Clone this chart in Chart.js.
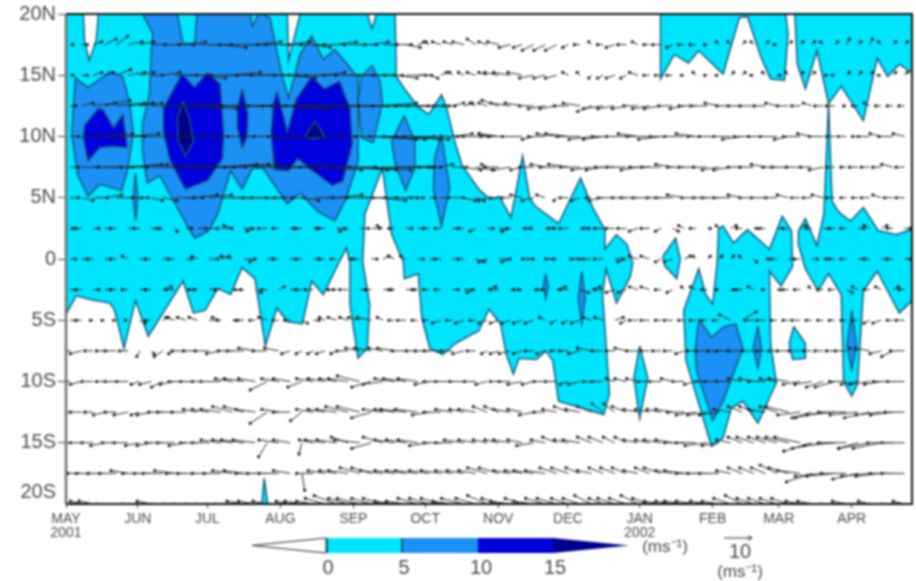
<!DOCTYPE html>
<html><head><meta charset="utf-8">
<style>html,body{margin:0;padding:0;background:#fff;overflow:hidden}
#wrap{width:916px;height:581px;position:relative}
canvas{filter:blur(0.8px)}</style>
<script src="https://cdn.jsdelivr.net/npm/chart.js@4/dist/chart.umd.min.js"></script>
</head><body><div id="wrap"><canvas id="c" width="916" height="581"></canvas></div>
<script>
// x axis unit: pentad index since 1 May 2001; y axis: latitude (deg, N positive)
const monthTicks=[0,6.2,12.2,18.5,24.8,31.0,37.3,43.3,49.5,55.8,61.5,67.8];
const monthLabels=[['MAY','2001'],'JUN','JUL','AUG','SEP','OCT','NOV','DEC',['JAN','2002'],'FEB','MAR','APR'];
const latTicks=[20,15,10,5,0,-5,-10,-15,-19.1];
const latLabels=['20N','15N','10N','5N','0','5S','10S','15S','20S'];
const legendLevels=['0','5','10','15'];

// speed > 0 contour regions
const band0=[
[[0,20],[1.5,20],[1.6,17.8],[2.0,16.2],[2.6,17.8],[2.8,20],[19.1,20],[19.2,16.2],[20.2,20],[26.0,20],[26.4,18.8],[26.8,20],[28.4,20],[28.5,14.9],[29.2,13.9],[30.4,12.4],[31.3,11.8],[32.4,13.4],[32.8,12.5],[33.6,9.4],[34.2,7.6],[35.7,5.6],[36.6,4.9],[37.4,5.1],[38.4,3.4],[39.4,8.4],[40.0,5.0],[40.5,4.3],[42.5,2.9],[44.4,6.6],[45.4,4.3],[46.5,2.4],[46.5,0.8],[47.5,2.0],[48.4,1.2],[48.9,-0.3],[48.7,-1.4],[47.5,-3.6],[46.6,-0.8],[46.3,-2.9],[46.9,-11.0],[46.4,-12.7],[42.5,-11.6],[42.0,-8.3],[41.4,-7.5],[40.6,-8.2],[39.1,-8.1],[38.6,-9.4],[38.0,-7.8],[37.5,-5.3],[36.5,-4.1],[35.6,-5.9],[35.1,-6.1],[33.6,-6.9],[32.5,-7.8],[31.4,-7.3],[30.7,-4.8],[30.4,-1.2],[29.2,-1.6],[29.1,-0.2],[28.1,2.0],[27.3,7.4],[25.8,3.7],[25.6,-0.2],[26.2,-3.7],[26.0,-7.3],[25.2,-8.1],[24.5,-3.7],[24.5,-0.3],[24.2,0.9],[23.6,-0.2],[22.2,-2.9],[21.2,-1.8],[20.4,-5.3],[19.1,-5.1],[18.2,-4.0],[17.2,-7.1],[16.3,-1.6],[15.2,-0.7],[14.2,-2.9],[13.1,-2.4],[12.0,-4.2],[11.0,-4.4],[10.1,-1.8],[7.1,-6.3],[6.0,-3.4],[5.0,-7.3],[4.2,-4.2],[3.8,-3.6],[2.1,-3.3],[0.9,-3.0],[0,-4.5]],
[[51.3,20],[51.3,14.7],[52.5,16.7],[53.7,16.0],[54.6,17.0],[56.7,15.1],[58.1,19.7],[58.8,19.8],[60.0,16.4],[60.8,14.7],[62.0,14.6],[62.3,18.4],[62.1,20]],
[[62.9,20],[63.1,15.9],[63.8,13.9],[64.8,17.0],[65.8,12.7],[66.9,14.1],[68.8,11.3],[70.0,16.4],[70.9,14.9],[71.9,15.9],[73,15.2],[73,20]],
[[63.2,2.3],[63.8,3.3],[64.8,1.1],[65.4,3.7],[65.8,12.7],[66.1,4.7],[66.7,3.8],[67.7,3.1],[68.8,4.2],[70.1,2.3],[71.6,2.0],[73,2.4],[73,-3.4],[71.9,-4.4],[70.0,-1.0],[68.8,-2.6],[68.3,-10.2],[67.8,-11.2],[67.1,-10.0],[66.9,-2.9],[65.8,-1.2],[64.9,-2.6],[63.8,-0.8],[63.2,1.2]],
[[56.3,2.5],[56.7,2.7],[57.6,1.3],[58.8,2.4],[60.7,0.8],[61.8,3.5],[62.6,2.3],[62.7,-0.6],[61.7,-2.2],[60.7,-1.0],[60.8,-6.9],[61.3,-10.1],[59.7,-13.4],[58.4,-11.6],[57.4,-12.2],[56.7,-14.6],[55.7,-15.3],[53.5,-8.3],[53.3,-4.2],[54.6,-0.8],[55.2,-2.9],[55.8,-3.7],[56.2,-0.2]],
[[51.5,0.2],[52.6,1.7],[53.0,0],[52.7,-1.6],[51.7,-0.6]],
[[49.5,-7.1],[50.2,-9.7],[49.5,-13.0],[49.0,-9.7]],
[[62.8,-5.5],[63.8,-6.9],[63.8,-8.1],[62.7,-8.2],[62.4,-6.9]],
[[17.1,-17.9],[17.4,-20],[16.9,-20]]
];
// speed > 5 contour regions
const band5=[
[[0.8,14.8],[1.9,14.0],[3.8,15.3],[4.9,14.9],[5.5,12.7],[5.8,10.2],[5.3,7.2],[4.8,5.6],[2.9,6.1],[1.9,5.1],[1.0,6.9],[0.5,10.2]],
[[6.0,7.0],[6.2,5.0],[6.0,3.1],[5.8,5.0]],
[[6.6,20],[9.6,20],[10.1,17.6],[11.1,17.6],[11.3,20],[15.9,20],[16.1,19.0],[16.6,20],[17.0,20],[17.6,19.7],[18.5,15.6],[19.2,13.1],[20.2,16.7],[21.2,18.2],[22.2,16.3],[23.2,17.1],[24.2,16.0],[25.2,14.8],[25.2,8.0],[24.2,5.0],[23.2,3.1],[21.7,3.9],[20.2,5.4],[19.1,4.5],[17.0,7.4],[16.1,7.4],[15.2,5.7],[14.2,7.2],[13.1,3.7],[12.3,2.3],[11.1,1.7],[9.6,4.2],[8.1,6.8],[7.0,6.2],[6.6,8.8],[6.6,11.0],[7.2,13.5],[7.4,17.6],[7.5,18.4]],
[[25.5,14.9],[26.4,15.8],[27.1,14.5],[27.3,12.7],[26.5,9.5],[25.5,9.9],[25.2,12.9]],
[[29.2,11.7],[30.1,9.6],[30.1,7.4],[29.3,5.6],[28.4,7.8],[28.1,9.6]],
[[32.4,10.2],[33.1,5.8],[32.4,2.7],[31.7,5.6],[31.8,8.2]],
[[41.4,-1.2],[41.6,-2.2],[41.4,-3.2],[41.2,-2.2]],
[[44.5,-1.0],[44.8,-3.2],[44.5,-5.3],[44.2,-3.2]],
[[67.8,-4.2],[68.2,-7.1],[67.8,-9.1],[67.4,-7.1]],
[[54.6,-4.9],[55.7,-6.4],[56.8,-5.5],[57.8,-5.3],[58.4,-7.3],[56.7,-11.6],[55.8,-13.2],[54.4,-9.1],[54.3,-7.3]],
[[59.7,-5.5],[60.0,-7.3],[59.7,-8.9],[59.3,-7.3]]
];
// speed > 10 contour regions
const band10=[
[[1.6,10.9],[2.8,12.3],[3.2,12.2],[4.1,10.7],[4.9,11.8],[5.3,9.1],[4.0,9.2],[2.9,9.1],[1.9,8.0],[1.5,9.9]],
[[8.4,12.3],[10.0,15.1],[11.1,14.0],[12.2,15.2],[13.3,14.3],[13.6,10.2],[13.5,8.2],[12.2,6.4],[10.3,5.7],[9.0,8.0],[8.4,10.4]],
[[15.2,13.9],[15.7,11.8],[15.6,9.9],[15.2,9.1],[14.8,10.7],[14.8,12.3]],
[[18.2,13.7],[19.1,10.4],[19.9,13.1],[21.2,14.9],[22.3,13.9],[23.6,14.5],[24.5,12.3],[24.7,9.4],[23.9,6.4],[23.0,6.0],[21.3,7.2],[20.0,8.2],[19.2,7.2],[18.0,7.3],[17.7,10.2],[17.9,12.7]]
];
// speed > 15 contour regions
const band15=[
[[10.1,12.9],[10.7,11.3],[11.0,9.6],[10.3,8.4],[9.7,9.6],[9.6,11.5]],
[[21.5,11.3],[22.3,10.0],[21.3,9.8],[20.6,10.0]]
];

// wind rows: latitude, zonal and meridional wind per pentad (m/s)
const windLats=[17.5,15,12.5,10,7.5,5,2.5,0,-2.5,-5,-7.5,-10,-12.5,-15,-17.5,-20];
const uN175=[1,2,3,4,4,5, 5,5,6,7,7,8, 8,9,9,8,9,8, 8,7,8,6,7,7,6, 6,6,5,6,5,3, -2,-3,-3,-4,-3,-3, -4,-4,-3,-4,-4,-4, -2,-2,-1,-2,-3,-3, -2,-2,-3,-2,-2,-2, -1,-1,-1,1,-1,1, -1,1,1,1,-1,1, 1,1,1,-1,1,1];
const vN175=[0,0,1,2,3,1, 1,0,0,0,1,0, 0,-1,0,0,1,0, 0,1,0,-1,0,1,0, 0,1,0,0,-1,1, 1,1,1,1,2,1, 1,-1,-1,-2,-2,-2, -1,0,1,0,-1,0, 1,0,0,-1,0,0, 0,1,1,1,1,1, 0,1,1,1,1,1, 2,1,2,1,1,1];
const uN150=[1,2,3,3,5,6, 5,4,6,8,9,10, 10,11,10,11,12,11, 10,9,8,8,7,8,9, 9,8,7,8,7,5, 3,2,-1,-2,-3,-3, -5,-6,-5,-5,-4,-4, -2,-1,-1,-2,-3,-2, -3,-2,-2,-2,-1,-1, -1,-1,1,1,-1,-1, 1,-1,1,1,1,-1, 1,1,1,-1,1,1];
const vN150=[0,0,1,1,2,1, 1,0,1,0,0,-1, 0,0,1,0,0,0, 0,-1,0,0,1,0,0, 0,0,0,-1,0,0, -1,1,1,1,1,1, 1,1,1,-1,-1,-1, 1,1,-1,-1,-1,-1, 1,0,0,0,0,1, 0,0,1,1,0,1, 0,1,1,1,0,0, 1,1,1,0,1,1];
const uN125=[2,4,8,9,10,9, 8,10,12,13,13,14, 14,15,14,15,14,13, 13,13,12,12,12,13,14, 13,13,12,12,10,9, 7,5,4,3,-2,-3, -6,-7,-6,-5,-6,-6, -5,-6,-5,-7,-6,-5, -5,-6,-6,-5,-5,-6, -6,-5,-5,-5,-5,-4, -4,-4,-3,-3,-3,-3, -1,-2,-2,-2,-2,-2];
const vN125=[0,1,1,2,1,1, 1,0,0,0,0,-1, 0,0,0,0,0,0, 0,-1,0,0,0,0,0, 0,0,1,0,0,0, 0,0,1,1,1,1, 2,1,1,0,-1,-1, 0,1,-2,-1,-1,-1, 0,-1,-1,0,-1,0, 0,1,0,0,0,0, 1,0,0,1,0,0, 0,0,1,0,0,0];
const uN100=[3,6,9,10,10,11, 10,11,14,15,15,16, 16,17,16,16,15,15, 15,14,14,15,16,17,17, 16,16,15,14,12,11, 10,8,7,6,5,-3, -7,-8,-7,-4,-6,-7, -8,-8,-8,-7,-8,-7, -7,-8,-8,-8,-7,-7, -7,-7,-6,-7,-7,-6, -6,-5,-6,-5,-5,-3, -3,-2,-4,-4,-5,-4];
const vN100=[0,0,0,1,0,1, 0,0,0,0,0,0, 0,0,0,0,0,0, 0,0,0,0,0,0,0, 0,-1,-1,0,-1,-1, 0,0,1,0,0,1, 1,0,0,-1,0,1, 1,0,-1,-1,0,0, 1,0,-1,0,0,1, 0,0,0,-1,0,0, 0,-1,0,1,0,0, 0,0,0,1,0,1];
const uN075=[3,6,10,10,11,12, 10,11,13,14,14,13, 13,13,13,12,12,12, 11,10,11,13,13,14,14, 13,14,13,12,9,6, 4,4,5,6,6,-2, -5,-6,-4,-5,-5,-6, -7,-7,-7,-6,-7,-7, -6,-7,-7,-6,-6,-6, -5,-6,-6,-5,-5,-5, -5,-6,-5,-4,-5,-3, -2,-3,-3,-3,-4,-3];
const vN075=[0,0,0,0,0,1, 1,0,0,0,0,0, 0,1,1,1,0,0, 0,0,0,0,-1,0,-1, -1,-1,0,0,0,0, 0,1,0,-1,-1,1, 0,-1,-1,0,1,0, 1,0,-1,-1,0,0, -1,0,0,1,0,0, 0,-1,-1,0,0,1, 0,0,0,0,-1,0, 0,0,0,0,1,0];
const uN050=[3,4,5,6,6,5, 3,4,5,7,6,7, 8,8,7,8,7,6, 5,5,6,7,8,9,9, 9,9,8,6,4,2, 2,3,4,4,3,-3, -3,-3,-4,-4,-3,-1, -3,-3,-2,-5,-6,-5, -6,-6,-5,-6,-6,-5, -5,-6,-6,-5,-5,-5, -4,-4,-3,-3,-4,-3, -2,-2,-3,-3,-3,-3];
const vN050=[0,-1,0,1,0,0, 0,-1,-1,0,0,1, 1,0,0,0,0,0, 0,0,-1,0,0,1,0, 0,0,-1,0,0,0, 0,0,0,-1,-1,-1, 0,0,1,-1,1,-1, 0,-1,0,-1,0,0, 0,0,0,0,1,0, 0,0,0,1,0,0, 0,1,0,0,1,0, 0,0,0,1,0,0];
const uN025=[1,-2,2,2,-2,2, -2,2,-1,1,2,3, 3,4,-3,3,-3,-3, -2,2,-3,2,-3,3,-3, 3,3,-2,-2,2,2, -2,-2,2,-2,-2,2, 3,-3,3,-3,3,-3, -3,3,-3,-3,-3,-3, -3,-3,-2,2,-2,-2, 1,-1,2,-2,1,-2, 2,-2,2,-2,2,-2, -2,2,-2,2,-2,2];
const vN025=[0,0,0,0,0,0, 0,0,0,-1,0,0, 0,0,1,0,-1,0, 0,0,0,0,0,0,-1, 0,0,1,0,0,0, 0,0,0,0,-1,0, 0,-1,0,0,0,0, 0,0,0,0,0,0, -1,0,-1,-1,1,0, 0,1,1,0,0,0, 0,0,1,0,0,0, 0,0,1,1,0,0];
const uEq=[2,2,-2,2,-2,-2, 2,-2,2,-2,2,-2, 3,3,-4,4,-2,2, -2,2,-2,2,-2,-2,2, -3,2,2,-2,-2,2, 2,-2,2,-2,3,-3, 4,-3,4,-4,3,-4, 4,-3,-3,-3,3,-3, -3,-3,-2,-3,2,-1, 1,1,1,-1,1,1, -2,2,-2,2,1,-2, -2,2,-2,2,-2,2];
const vEq=[0,0,0,0,0,1, 0,0,0,0,0,1, 0,1,1,0,-1,0, 0,0,0,0,0,0,0, 0,0,1,1,1,0, 0,0,0,0,-1,-1, 0,-1,0,0,0,0, 0,0,0,0,0,-1, 1,1,-1,-1,1,1, 1,1,1,1,-1,0, 0,0,0,0,0,0, 0,0,0,0,0,0];
const uS025=[2,-2,2,2,-2,-2, 2,-2,3,-3,3,-3, 2,-2,3,-3,2,-2, 2,2,-2,-3,3,-3,-3, 2,-2,3,-2,3,-2, -2,-2,2,3,-3,3, -3,3,-3,3,-3,3, -3,3,3,-3,-3,-3, -3,-3,-2,-2,-1,-2, -2,-1,1,-2,-2,-1, 1,-2,-2,-1,-2,-2, 2,-2,-2,-2,2,-2];
const vS025=[0,0,0,0,0,0, 0,0,1,0,0,0, 0,0,0,0,-1,0, 1,0,0,0,0,0,0, 0,0,0,0,0,0, 0,0,0,0,-1,1, 0,0,0,0,0,1, 0,-1,1,0,-1,-1, 1,1,0,-1,1,1, 0,0,0,0,1,0, 0,0,0,1,0,0, -1,1,0,1,1,0];
const uS050=[2,-2,-1,-1,-1,-1, 2,-2,2,-3,-3,-3, 3,-3,2,-3,-2,-3, -2,-2,2,2,-2,-3,-3, -4,-5,-2,-2,-3,-2, -2,-3,-2,-3,-2,-3, -3,-3,-3,-3,-2,-2, -2,-3,-3,-3,3,-2, -3,-3,-2,-3,-2,-2, -2,-2,-4,5,-3,-3, -2,-2,-3,-2,-2,-2, -2,-2,-2,-3,-2,-3];
const vS050=[0,0,0,0,0,0, -1,0,1,1,1,1, 0,1,0,0,0,1, 0,0,-1,0,1,1,1, 1,1,1,0,0,0, 0,-1,0,-1,0,-1, -1,-1,-1,-1,1,-1, -1,-1,1,1,1,-1, 0,0,0,0,0,0, 0,0,2,3,0,0, 0,0,0,0,0,0, 0,0,-1,-1,0,0];
const uS075=[-3,-4,-3,-3,-4,-3, -1,1,-3,-2,-5,-5, -5,-5,-5,-6,-6,-5, -5,-3,-2,-2,-3,-2,-4, -5,-6,-5,-6,-5,-4, -5,-6,-4,-4,-3,-2, -3,-4,-3,-3,-3,-2, -3,-4,-5,-4,-3,-4, -4,-3,-3,-3,-3,-3, -4,-4,-5,-5,-4,-3, -3,-4,-4,-3,-3,-3, -4,-3,-5,-4,-4,-5];
const vS075=[0,-1,0,0,0,0, -2,-1,-2,-1,0,0, 0,-1,0,0,1,0, 1,-1,-1,-1,-1,-1,0, 1,1,1,1,0,0, 0,0,0,-1,0,-1, -1,-1,-1,0,-1,0, 0,-1,1,0,0,1, 0,0,0,0,-1,0, 0,0,0,0,0,0, 0,0,0,0,0,0, 0,1,1,-1,-2,0];
const uS100=[-3,-4,-4,-3,-4,-4, -3,-4,-4,-5,-6,-6, -6,-7,-6,-7,-6,-6, -6,-6,-5,-6,-6,-6,-7, -8,-7,-7,-7,-8,-7, -5,-6,-6,-5,-4,-4, -3,-4,-5,-4,-4,-4, -3,-4,-3,-4,-3,-4, -4,-4,-4,-4,-4,-4, -4,-5,-5,-5,-5,-6, -6,-7,-6,-6,-6,-7, -6,-6,-7,-6,-7,-6];
const vS100=[0,-1,0,0,0,0, -1,-1,-2,-1,0,0, 0,0,1,1,1,-3, 1,1,-2,1,1,1,1, 2,-2,-1,1,1,1, -1,0,0,0,0,-1, 0,0,-1,-1,0,0, -1,-1,0,0,1,1, 1,0,0,1,0,-1, 0,0,0,1,1,0, 1,1,-1,-1,-2,-2, 0,-1,-1,-1,0,0];
const uS125=[-4,-4,-3,-4,-4,-5, -3,-5,-5,-6,-5,-5, -6,-7,-7,-7,-7,-6, -6,-6,-4,-6,-6,-7,-8, -8,-7,-7,-7,-9,-8, -6,-6,-6,-5,-6,-5, -5,-6,-5,-5,-4,-5, -5,-5,-5,-4,-4,-5, -5,-5,-5,-6,-6,-7, -7,-7,-6,-5,-5,-6, -6,-8,-8,-7,-10,-10, -10,-10,-9,-9,-8,-7];
const vS125=[0,0,0,-1,0,-1, -1,-1,0,0,0,1, 1,1,2,2,1,-4, 1,0,-3,1,1,1,2, 2,-2,1,1,1,1, -1,0,1,1,1,2, 2,1,1,-1,0,1, 2,1,2,3,3,2, 1,1,1,1,0,-1, -1,-1,1,2,2,1, 2,2,-1,-2,-2,-1, 0,-1,-2,-1,-1,0];
const uS150=[-4,-4,-4,-5,-5,-5, -5,-5,-6,-6,-6,-6, -6,-7,-7,-8,-8,-3, -7,-6,-1,-5,-7,-7,-6, -9,-7,-7,-7,-7,-7, -7,-6,-6,-7,-6,-5, -5,-6,-5,-6,-5,-5, -5,-6,-5,-5,-4,-4, -5,-5,-6,-6,-7,-7, -8,-6,-5,-5,-6,-6, -7,-8,-9,-10,-11,-11, -10,-7,-11,-10,-9,-8];
const vS150=[0,0,0,-1,0,0, -1,-1,0,0,-1,0, 0,1,1,1,1,-5, 1,1,-4,1,1,1,2, 1,-2,2,1,1,1, -1,0,0,1,1,1, 1,1,1,-1,1,2, 1,1,2,2,2,2, 1,1,1,1,0,0, -1,-1,1,2,2,2, 2,2,2,-3,-2,-1, 0,-2,-2,-2,0,0];
const uS175=[-4,-5,-6,-6,-6,-6, -6,-6,-7,-7,-7,-7, -6,-6,-7,-7,-7,-7, -7,-6,1,-6,-6,-6,-7, -7,-7,-8,-7,-7,-8, -7,-7,-6,-6,-6,-7, -7,-6,-6,-7,-7,-6, -6,-5,-5,-5,-5,-5, -5,-5,-6,-6,-7,-7, -7,-7,-5,-5,-5,-5, -6,-7,-8,-9,-10,-10, -9,-9,-10,-9,-8,-8];
const vS175=[0,0,0,0,0,1, 0,0,0,1,0,0, 0,0,1,1,0,0, 0,1,-6,0,1,1,1, 2,2,1,1,1,1, 1,1,1,1,1,2, 2,1,1,1,1,2, 2,2,1,2,2,2, 1,2,2,1,1,0, 0,0,1,2,2,2, 3,2,1,-3,-1,-1, 0,-2,-1,-1,0,0];
const uS200=[-3,-4,-5,-6,-7,-7, -6,-5,-4,-4,-4,-4, -5,-5,-6,-6,-6,-5, -4,-5,-6,-6,-7,-8,-7, -8,-7,-7,-7,-7,-7, -7,-7,-7,-8,-7,-7, -6,-7,-6,-7,-7,-7, -6,-6,-6,-5,-6,-6, -6,-6,-6,-6,-7,-7, -6,-6,-6,-6,-6,-6, -6,-6,-5,-5,-5,-5, -5,-5,-4,-4,-4,-4];
const vS200=[0,1,1,0,0,-1, 0,1,0,0,0,0, 0,0,0,1,1,1, 0,1,1,1,2,3,2, 2,2,2,1,1,2, 2,2,1,2,2,3, 2,1,2,1,2,2, 2,2,3,2,2,2, 3,2,1,1,1,1, 1,1,2,3,2,2, 2,2,1,1,0,0, 1,0,1,0,0,1];
const windU=[uN175,uN150,uN125,uN100,uN075,uN050,uN025,uEq,uS025,uS050,uS075,uS100,uS125,uS150,uS175,uS200];
const windV=[vN175,vN150,vN125,vN100,vN075,vN050,vN025,vEq,vS025,vS050,vS075,vS100,vS125,vS150,vS175,vS200];

const AX={left:66,right:912,top:14,bottom:504};
const PENTADS=73;
const INK='#4a4a4a', EDGE='#14597a';
const COL0='#00e5ff',COL5='#1b90f5',COL10='#0000dc',COL15='#00008c';
const FONT='"Liberation Sans",Arial,sans-serif';
const pxPerMs=2.8;
const kx=pxPerMs/((AX.right-AX.left)/PENTADS), ky=pxPerMs/((AX.bottom-AX.top)/40);

function poly(pts,color,order){
  const d=pts.map(p=>({x:p[0],y:p[1]}));
  d.push({x:pts[0][0],y:pts[0][1]});
  return {type:'scatter',showLine:true,data:d,fill:'shape',backgroundColor:color,borderColor:EDGE,borderWidth:1.5,pointRadius:0,order};
}
const datasets=[];
band0.forEach(p=>datasets.push(poly(p,COL0,40)));
band5.forEach(p=>datasets.push(poly(p,COL5,30)));
band10.forEach(p=>datasets.push(poly(p,COL10,20)));
band15.forEach(p=>datasets.push(poly(p,COL15,10)));
windLats.forEach((lat,r)=>{
  const d=[];
  windU[r].forEach((u,i)=>{
    const v=windV[r][i]||0, x=i+0.35;
    d.push({x,y:lat},{x:x+u*kx,y:lat+v*ky},{x,y:null});
  });
  datasets.push({type:'scatter',showLine:true,spanGaps:false,data:d,borderColor:'#262626',borderWidth:1,fill:false,
    pointBackgroundColor:'#1a1a1a',pointBorderWidth:0,
    pointRadius:c=>c.dataIndex%3===1?1.6:0,order:1});
});

const frame={id:'frame',afterDatasetsDraw(ch){
  const a=ch.chartArea,g=ch.ctx;
  g.save();
  g.lineWidth=2.5;g.strokeStyle='#6e6e6e';g.beginPath();g.moveTo(a.left,a.top);g.lineTo(a.left,a.bottom);g.stroke();
  g.lineWidth=2;g.strokeStyle='#111';g.beginPath();g.moveTo(a.left,a.top);g.lineTo(a.right,a.top);g.lineTo(a.right,a.bottom);g.lineTo(a.left,a.bottom);g.stroke();
  g.restore();
}};
const bar={id:'bar',afterDraw(ch){
  const g=ch.ctx,y0=538,y1=553,ym=545.5,xs=[326,402,478,553],tl=252,tr=629;
  g.save();
  g.lineWidth=1;g.strokeStyle='#222';
  g.fillStyle='#fff';g.beginPath();g.moveTo(tl,ym);g.lineTo(xs[0],y0);g.lineTo(xs[0],y1);g.closePath();g.fill();g.stroke();
  g.fillStyle=COL0;g.fillRect(xs[0],y0,xs[1]-xs[0],y1-y0);
  g.fillStyle=COL5;g.fillRect(xs[1],y0,xs[2]-xs[1],y1-y0);
  g.fillStyle=COL10;g.fillRect(xs[2],y0,xs[3]-xs[2],y1-y0);
  g.fillStyle=COL15;g.beginPath();g.moveTo(xs[3],y0);g.lineTo(tr,ym);g.lineTo(xs[3],y1);g.closePath();g.fill();
  g.strokeStyle=EDGE;g.lineWidth=2;
  [xs[0]+1,xs[1]].forEach(x=>{g.beginPath();g.moveTo(x,y0);g.lineTo(x,y1);g.stroke();});
  g.fillStyle=INK;g.textAlign='center';g.textBaseline='middle';
  g.font='20px '+FONT;
  legendLevels.forEach((t,i)=>g.fillText(t,xs[i]+(i===2?3:2),568));
  g.font='17px '+FONT;g.fillText('(ms⁻¹)',665,547);
  g.font='20px '+FONT;g.fillText('10',740,552);
  g.font='17px '+FONT;g.fillText('(ms⁻¹)',740,572);
  g.strokeStyle='#222';g.lineWidth=1;g.beginPath();g.moveTo(724,538);g.lineTo(752,538);g.moveTo(748,535.5);g.lineTo(752,538);g.lineTo(748,540.5);g.stroke();
  g.restore();
}};

new Chart(document.getElementById('c'),{
  data:{datasets},
  options:{
    responsive:false,animation:false,events:[],
    layout:{padding:{top:AX.top,right:916-AX.right,left:0,bottom:0}},
    plugins:{legend:{display:false},tooltip:{enabled:false},title:{display:false}},
    scales:{
      x:{type:'linear',min:0,max:PENTADS,
        afterBuildTicks:s=>{s.ticks=monthTicks.map(value=>({value}));},
        afterFit:s=>{s.height=581-AX.bottom;},
        grid:{display:true,drawOnChartArea:false,drawTicks:true,tickLength:4,tickColor:'#333',lineWidth:1},
        border:{display:false},
        ticks:{autoSkip:false,maxRotation:0,minRotation:0,padding:4,color:INK,
          font:{family:FONT,size:14,lineHeight:1.0},
          callback:v=>monthLabels[monthTicks.indexOf(v)]}},
      y:{type:'linear',min:-20,max:20,
        afterBuildTicks:s=>{s.ticks=latTicks.map(value=>({value}));},
        afterFit:s=>{s.width=AX.left;},
        grid:{display:true,drawOnChartArea:false,drawTicks:true,tickLength:8,lineWidth:1,
          tickColor:c=>c.tick&&c.tick.value===-19.1?'rgba(0,0,0,0)':'#444'},
        border:{display:false},
        ticks:{autoSkip:false,padding:2,color:INK,font:{family:FONT,size:20},
          callback:v=>latLabels[latTicks.indexOf(v)]}}
    }
  },
  plugins:[frame,bar]
});
</script></body></html>
